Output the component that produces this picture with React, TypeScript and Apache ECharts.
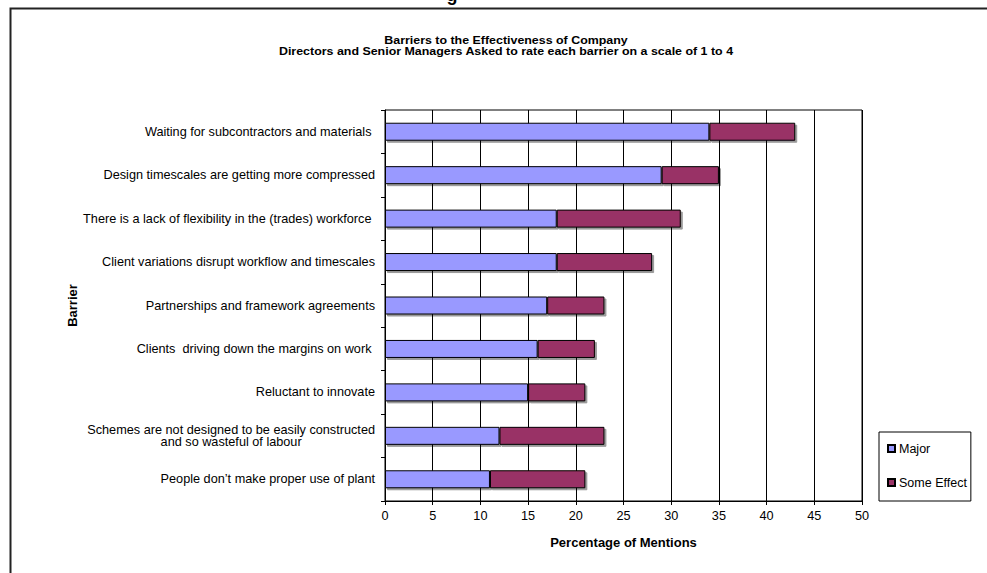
import React, { useEffect, useRef } from "react";
import * as echarts from "echarts";

const categories = [
  "Waiting for subcontractors and materials ",
  "Design timescales are getting more compressed",
  "There is a lack of flexibility in the (trades) workforce ",
  "Client variations disrupt workflow and timescales",
  "Partnerships and framework agreements",
  "Clients  driving down the margins on work ",
  "Reluctant to innovate",
  "Schemes are not designed to be easily constructed\nand so wasteful of labour",
  "People don’t make proper use of plant",
];
const majorValues = [34, 29, 18, 18, 17, 16, 15, 12, 11];
const someEffectValues = [9, 6, 13, 10, 6, 6, 6, 11, 10];
const seriesNames = ["Major", "Some Effect"];
const xTicks = { min: 0, max: 50, interval: 5 };

const titleLine1 = "Barriers to the Effectiveness of Company";
const titleLine2 = "Directors and Senior Managers Asked to rate each barrier on a scale of 1 to 4";

const FONT = '"Liberation Sans", Arial, sans-serif';
const FS = 12.7;

export default function App() {
  const ref = useRef<HTMLDivElement>(null);
  useEffect(() => {
    if (!ref.current) return;
    const chart = echarts.init(ref.current, null, { renderer: "svg" });
    const barBase = {
      type: "bar",
      stack: "total",
      barWidth: 18,
      emphasis: { disabled: true },
    };
    const shadow = {
      borderColor: "#000",
      borderWidth: 1,
      shadowColor: "rgba(0,0,0,0.4)",
      shadowOffsetX: 2,
      shadowOffsetY: 2,
      shadowBlur: 0,
    };
    chart.setOption({
      animation: false,
      backgroundColor: "#ffffff",
      textStyle: { fontFamily: FONT, color: "#000" },
      graphic: [
        {
          type: "rect",
          shape: { x: 10.5, y: 8.5, width: 1200, height: 800 },
          style: { fill: "none", stroke: "#222", lineWidth: 2 },
          silent: true,
        },
        {
          type: "text",
          x: 452,
          y: 4,
          style: {
            text: "g",
            font: `bold 18px ${FONT}`,
            fill: "#000",
            align: "center",
            verticalAlign: "bottom",
          },
        },
        {
          type: "text",
          x: 506,
          y: 40,
          scaleX: 1.13,
          style: {
            text: titleLine1,
            font: `bold 11px ${FONT}`,
            fill: "#000",
            align: "center",
            verticalAlign: "middle",
          },
        },
        {
          type: "text",
          x: 506,
          y: 50.5,
          scaleX: 1.13,
          style: {
            text: titleLine2,
            font: `bold 11px ${FONT}`,
            fill: "#000",
            align: "center",
            verticalAlign: "middle",
          },
        },
      ],
      legend: {
        orient: "vertical",
        left: 879,
        top: 432,
        padding: [10, 4, 12, 8],
        itemWidth: 7,
        itemHeight: 7,
        itemGap: 21,
        borderColor: "#000",
        borderWidth: 1,
        icon: "rect",
        textStyle: { fontSize: 12.5, fontFamily: FONT, color: "#000", padding: [0, 0, 0, -1] },
        data: seriesNames,
        selectedMode: false,
      },
      grid: { left: 385, right: 125, top: 110, bottom: 72, show: true, borderColor: "#000", borderWidth: 1 },
      xAxis: {
        type: "value",
        min: xTicks.min,
        max: xTicks.max,
        interval: xTicks.interval,
        name: "Percentage of Mentions",
        nameLocation: "middle",
        nameGap: 35,
        nameTextStyle: { fontSize: 13, fontWeight: "bold", fontFamily: FONT, color: "#000" },
        axisLine: { show: true, lineStyle: { color: "#000", width: 1 } },
        axisTick: { show: true, length: 4, lineStyle: { color: "#000" } },
        axisLabel: { fontSize: FS, margin: 8, color: "#000", fontFamily: FONT },
        splitLine: { show: true, lineStyle: { color: "#000", width: 1 } },
      },
      yAxis: {
        type: "category",
        inverse: true,
        data: categories,
        name: "Barrier",
        nameLocation: "middle",
        nameGap: 306,
        nameRotate: 90,
        nameTextStyle: { fontSize: 13, fontWeight: "bold", fontFamily: FONT, color: "#000" },
        axisLine: { show: true, lineStyle: { color: "#000", width: 1 } },
        axisTick: { show: true, length: 4, lineStyle: { color: "#000" } },
        axisLabel: {
          fontSize: FS,
          margin: 10,
          color: "#000",
          fontFamily: FONT,
          formatter: (v: string) =>
            v
              .split("\n")
              .map((l) => `{c|${l}}`)
              .join("\n"),
          rich: { c: { align: "center", fontSize: FS, fontFamily: FONT, color: "#000", lineHeight: 12.5 } },
        },
        splitLine: { show: false },
      },
      series: [
        {
          ...barBase,
          name: seriesNames[0],
          data: majorValues,
          itemStyle: { color: "#9999FF", ...shadow },
        },
        {
          ...barBase,
          name: seriesNames[1],
          data: someEffectValues,
          itemStyle: { color: "#993366", ...shadow },
        },
      ],
    });
    return () => chart.dispose();
  }, []);
  return (
    <div
      ref={ref}
      style={{ position: "fixed", left: 0, top: 0, width: 987, height: 573, background: "#fff" }}
    />
  );
}
